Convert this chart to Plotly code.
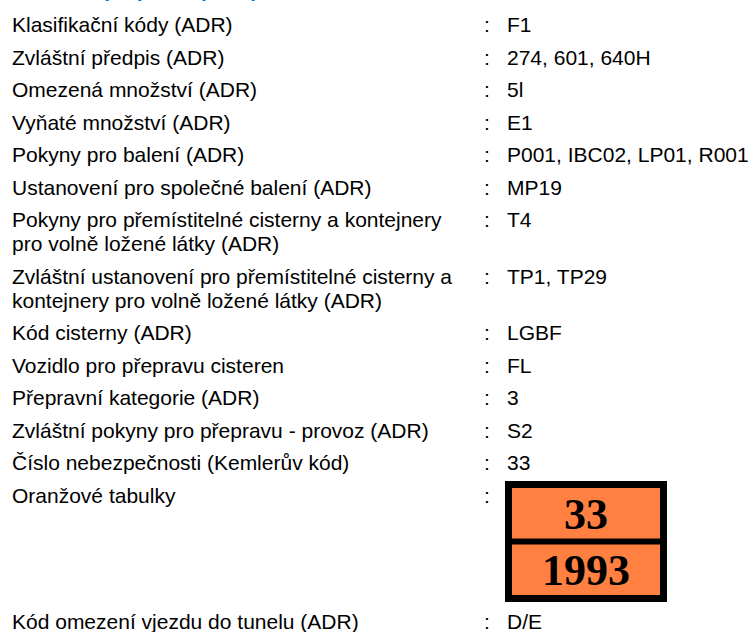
import plotly.graph_objects as go

# ---- data ----
labels = [
    "Klasifikační kódy (ADR)",
    "Zvláštní předpis (ADR)",
    "Omezená množství (ADR)",
    "Vyňaté množství (ADR)",
    "Pokyny pro balení (ADR)",
    "Ustanovení pro společné balení (ADR)",
    "Pokyny pro přemístitelné cisterny a kontejnery\npro volně ložené látky (ADR)",
    "Zvláštní ustanovení pro přemístitelné cisterny a\nkontejnery pro volně ložené látky (ADR)",
    "Kód cisterny (ADR)",
    "Vozidlo pro přepravu cisteren",
    "Přepravní kategorie (ADR)",
    "Zvláštní pokyny pro přepravu - provoz (ADR)",
    "Číslo nebezpečnosti (Kemlerův kód)",
    "Oranžové tabulky",
    "Kód omezení vjezdu do tunelu (ADR)",
]
values = [
    "F1",
    "274, 601, 640H",
    "5l",
    "E1",
    "P001, IBC02, LP01, R001",
    "MP19",
    "T4",
    "TP1, TP29",
    "LGBF",
    "FL",
    "3",
    "S2",
    "33",
    "",
    "D/E",
]
placard_row = "Oranžové tabulky"
hazard_id = "33"
un_number = "1993"
heading = "Pozemní přeprava (ADR)"

# ---- layout constants (style) ----
W, H = 749, 632
FONT = "Liberation Sans, Arial, sans-serif"
FS = 21
ROW_GAP = 32.5
LINE_GAP = 24
TOP = 24.5
LABEL_X, COLON_X, VALUE_X = 10, 482, 505
PLACARD_W, PLACARD_H, BORDER, SEP = 162, 121, 7, 6
PLACARD_X0 = 505
PLACARD_DY = -14  # placard top relative to its row centre
AFTER_PLACARD = 19  # gap between placard bottom and next row centre
ORANGE = "#FF8040"
HEADING_PX = -10  # heading centre, px above the top edge (cut off)

fig = go.Figure()
ann = []
shapes = []

y = TOP
for lab, val in zip(labels, values):
    lines = lab.split("\n")
    for k, ln in enumerate(lines):
        ann.append(dict(x=LABEL_X, y=y + k * LINE_GAP, text=ln, xanchor="left", yanchor="middle",
                        showarrow=False, font=dict(family=FONT, size=FS, color="#000")))
    ann.append(dict(x=COLON_X, y=y, text=":", xanchor="left", yanchor="middle",
                    showarrow=False, font=dict(family=FONT, size=FS, color="#000")))
    if val:
        ann.append(dict(x=VALUE_X, y=y, text=val, xanchor="left", yanchor="middle",
                        showarrow=False, font=dict(family=FONT, size=FS, color="#000")))
    step = (len(lines) - 1) * LINE_GAP + ROW_GAP
    if lab == placard_row:
        top = y + PLACARD_DY
        x0, x1 = PLACARD_X0, PLACARD_X0 + PLACARD_W
        shapes.append(dict(type="rect", x0=x0, x1=x1, y0=top, y1=top + PLACARD_H,
                           fillcolor="#000", line=dict(width=0)))
        half = (PLACARD_H - 2 * BORDER - SEP) / 2
        p1 = (top + BORDER, top + BORDER + half)
        p2 = (p1[1] + SEP, p1[1] + SEP + half)
        for (a, b), txt in zip([p1, p2], [hazard_id, un_number]):
            shapes.append(dict(type="rect", x0=x0 + BORDER, x1=x1 - BORDER, y0=a, y1=b,
                               fillcolor=ORANGE, line=dict(width=0)))
            ann.append(dict(x=(x0 + x1) / 2, y=(a + b) / 2 + 1, text="<b>%s</b>" % txt,
                            xanchor="center", yanchor="middle", showarrow=False,
                            font=dict(family="Liberation Serif, Times New Roman, serif", size=44, color="#000")))
        step = PLACARD_DY + PLACARD_H + AFTER_PLACARD
    y += step

# cut-off heading at top (paper coords so it is not hidden outside the axis range)
ann.append(dict(xref="paper", yref="paper", x=LABEL_X / W, y=1 - HEADING_PX / H,
                text="<b>%s</b>" % heading, xanchor="left", yanchor="middle",
                showarrow=False, font=dict(family=FONT, size=FS, color="#0A73D6")))

fig.update_layout(
    width=W, height=H, margin=dict(l=0, r=0, t=0, b=0),
    paper_bgcolor="white", plot_bgcolor="white",
    xaxis=dict(range=[0, W], visible=False, fixedrange=True),
    yaxis=dict(range=[H, 0], visible=False, fixedrange=True),
    annotations=ann, shapes=shapes, showlegend=False,
)
fig.write_html("out.html", config={"displayModeBar": False},
               post_script="document.body.style.margin='0';document.body.style.overflow='hidden';")
